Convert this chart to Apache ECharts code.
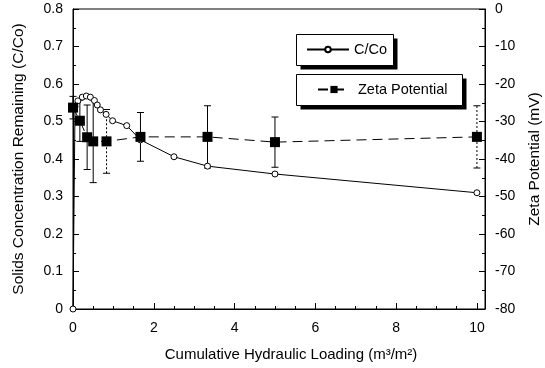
<!DOCTYPE html>
<html><head><meta charset="utf-8">
<script src="https://cdn.jsdelivr.net/npm/echarts@6/dist/echarts.min.js"></script>
<style>html,body{margin:0;padding:0;background:#fff}#c{width:545px;height:368px}</style>
</head><body><div id="c"></div>
<script>
// C/Co data
const ccoX = [0, 0.05, 0.12, 0.23, 0.33, 0.43, 0.53, 0.6, 0.68, 0.82, 0.98, 1.33, 1.67, 2.5, 3.33, 5, 10];
const ccoY = [0, 0.54, 0.555, 0.565, 0.568, 0.565, 0.556, 0.544, 0.531, 0.519, 0.502, 0.489, 0.451, 0.406, 0.381, 0.36, 0.31];
// Zeta potential data (mV)
const zetaX = [0, 0.17, 0.35, 0.5, 0.83, 1.67, 3.33, 5, 10];
const zetaY = [-26.3, -29.8, -34.2, -35.3, -35.3, -34.1, -34.1, -35.5, -34.1];
const zetaErr = [3, 5.5, 8.6, 11, 8.5, 6.5, 8.3, 6.7, 8.3];
// axis ticks
const xTicks = [0, 2, 4, 6, 8, 10];
const yLeftTicks = [0, 0.1, 0.2, 0.3, 0.4, 0.5, 0.6, 0.7, 0.8];
const yRightTicks = [-80, -70, -60, -50, -40, -30, -20, -10, 0];

const dashedBars = [4, 8];
const FONT = 'Liberation Sans';

const ccoData = ccoX.map((x, i) => [x, ccoY[i]]);
const zetaData = zetaX.map((x, i) => [x, zetaY[i]]);
const errData = zetaX.map((x, i) => [x, zetaY[i] - zetaErr[i], zetaY[i] + zetaErr[i], i]);

const chart = echarts.init(document.getElementById('c'), null, {renderer: 'canvas'});
const axisCommon = {
  axisLine: {show: true, lineStyle: {color: '#000', width: 1}},
  axisTick: {show: true, inside: true, length: 6, lineStyle: {color: '#000'}},
  minorTick: {show: true, splitNumber: 2, length: 3, lineStyle: {color: '#000'}},
  splitLine: {show: false},
  axisLabel: {color: '#000', fontFamily: FONT, fontSize: 14},
  nameTextStyle: {color: '#000', fontFamily: FONT, fontSize: 15.5}
};
function box(x, y, w, h) {
  return [
    {type: 'rect', z: 1, shape: {x: x + 4, y: y + 4, width: w, height: h}, style: {fill: '#000'}},
    {type: 'rect', z: 2, shape: {x: x, y: y, width: w, height: h}, style: {fill: '#fff', stroke: '#000', lineWidth: 1}}
  ];
}
chart.setOption({
  animation: false,
  backgroundColor: '#fff',
  grid: {left: 73, right: 60, top: 9, bottom: 59, show: true, borderColor: '#000', borderWidth: 1,
         backgroundColor: 'transparent', containLabel: false, outerBoundsMode: 'none'},
  graphic: {elements: [].concat(box(296.5, 34.5, 97, 31), box(296.5, 74.5, 166, 31))},
  legend: [
    {
      data: [{name: 'C/Co'}], left: 306, top: 42, orient: 'vertical', z: 10,
      itemWidth: 42, itemHeight: 7, itemGap: 0, padding: 0,
      textStyle: {color: '#000', fontFamily: FONT, fontSize: 14.5}
    },
    {
      data: [{name: 'Zeta Potential'}], left: 317, top: 82, orient: 'vertical', z: 10,
      itemWidth: 32, itemHeight: 9, itemGap: 0, padding: 0,
      textStyle: {color: '#000', fontFamily: FONT, fontSize: 14.5, padding: [0, 0, 0, 3]}
    }
  ],
  xAxis: Object.assign({}, axisCommon, {
    type: 'value', min: 0, max: 10.2, interval: 2,
    minorTick: {show: true, splitNumber: 4, length: 3, lineStyle: {color: '#000'}},
    axisLabel: Object.assign({}, axisCommon.axisLabel, {
      margin: 12, showMaxLabel: false,
      formatter: v => xTicks.includes(v) ? String(v) : ''
    }),
    name: 'Cumulative Hydraulic Loading (m³/m²)', nameLocation: 'middle', nameGap: 38,
    nameTextStyle: {color: '#000', fontFamily: FONT, fontSize: 15, padding: [0, 0, 0, 24]}
  }),
  yAxis: [
    Object.assign({}, axisCommon, {
      type: 'value', min: 0, max: 0.8, interval: 0.1, position: 'left',
      axisLabel: Object.assign({}, axisCommon.axisLabel, {
        margin: 10,
        formatter: v => { const t = yLeftTicks.find(k => Math.abs(k - v) < 1e-9); return t === undefined ? '' : (t === 0 ? '0' : t.toFixed(1)); }
      }),
      name: 'Solids Concentration Remaining (C/Co)', nameLocation: 'middle', nameGap: 46
    }),
    Object.assign({}, axisCommon, {
      type: 'value', min: -80, max: 0, interval: 10, position: 'right',
      axisLabel: Object.assign({}, axisCommon.axisLabel, {
        margin: 10,
        formatter: v => yRightTicks.includes(v) ? String(v) : ''
      }),
      name: 'Zeta Potential (mV)', nameLocation: 'middle', nameGap: 42
    })
  ],
  series: [
    {
      name: 'Zeta Error', type: 'custom', yAxisIndex: 1, z: 2,
      data: errData,
      renderItem: (params, api) => {
        const x = api.value(0);
        const lo = api.coord([x, api.value(1)]);
        const hi = api.coord([x, api.value(2)]);
        const dashed = dashedBars.includes(api.value(3));
        const st = {stroke: '#000', lineWidth: 1, lineDash: dashed ? [2, 2] : null};
        const cap = 3.5;
        return {type: 'group', children: [
          {type: 'line', shape: {x1: lo[0], y1: lo[1], x2: hi[0], y2: hi[1]}, style: st},
          {type: 'line', shape: {x1: hi[0] - cap, y1: hi[1], x2: hi[0] + cap, y2: hi[1]}, style: {stroke: '#000', lineWidth: 1}},
          {type: 'line', shape: {x1: lo[0] - cap, y1: lo[1], x2: lo[0] + cap, y2: lo[1]}, style: {stroke: '#000', lineWidth: 1}}
        ]};
      }
    },
    {
      name: 'C/Co', type: 'line', yAxisIndex: 0, z: 3,
      data: ccoData,
      symbol: 'circle', symbolSize: 6,
      itemStyle: {color: '#fff', borderColor: '#000', borderWidth: 1},
      lineStyle: {color: '#000', width: 1}
    },
    {
      name: 'Zeta Potential', type: 'line', yAxisIndex: 1, z: 4,
      data: zetaData,
      symbol: 'rect', symbolSize: 10,
      itemStyle: {color: '#000'},
      lineStyle: {color: '#000', width: 1, type: [10, 6]}
    }
  ]
});
</script>
</body></html>
